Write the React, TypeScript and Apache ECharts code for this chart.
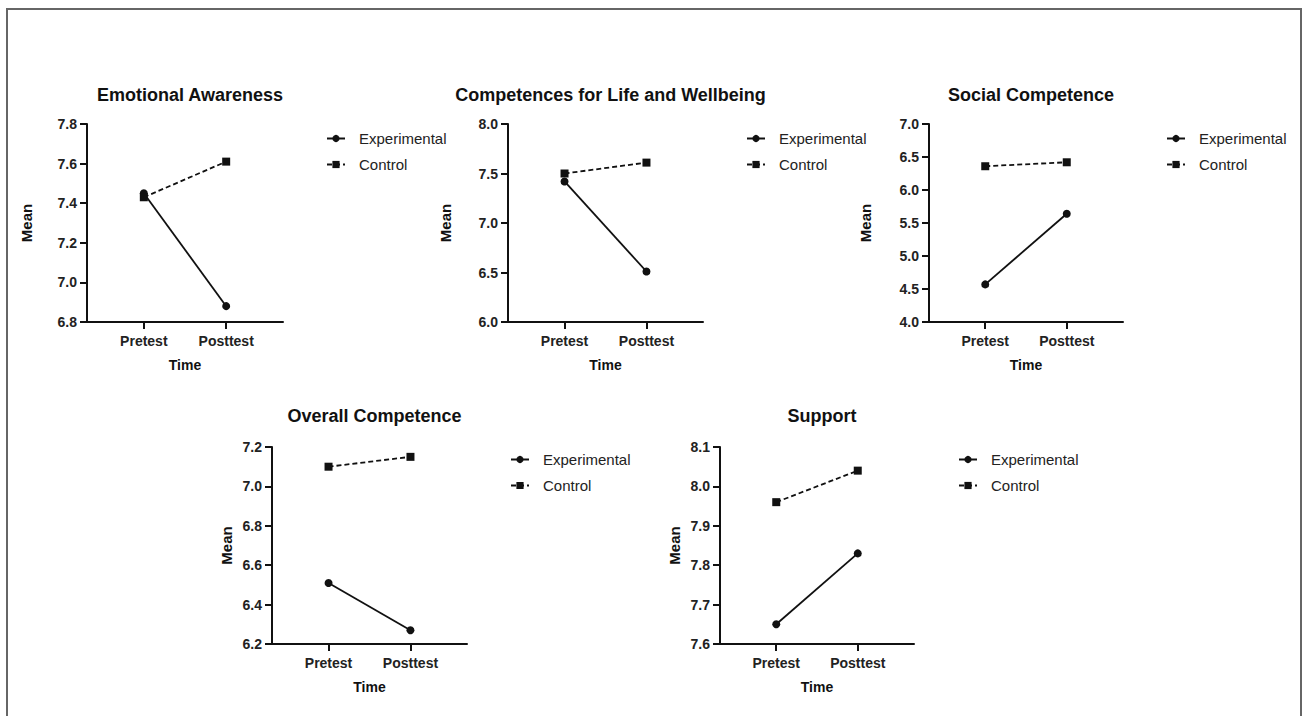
import React, { useEffect, useRef } from 'react';
import * as echarts from 'echarts';

// ---- Data ----
const timeLabels = ['Pretest', 'Posttest'];
const panelTitles = [
  'Emotional Awareness',
  'Competences for Life and Wellbeing',
  'Social Competence',
  'Overall Competence',
  'Support',
];
const seriesNames = ['Experimental', 'Control'];

const emotionalExp = [7.45, 6.88];
const emotionalCtl = [7.43, 7.61];
const lifeExp = [7.42, 6.51];
const lifeCtl = [7.5, 7.61];
const socialExp = [4.57, 5.64];
const socialCtl = [6.36, 6.42];
const overallExp = [6.51, 6.27];
const overallCtl = [7.1, 7.15];
const supportExp = [7.65, 7.83];
const supportCtl = [7.96, 8.04];

const experimentalSets = [emotionalExp, lifeExp, socialExp, overallExp, supportExp];
const controlSets = [emotionalCtl, lifeCtl, socialCtl, overallCtl, supportCtl];

const yMins = [6.8, 6.0, 4.0, 6.2, 7.6];
const yMaxs = [7.8, 8.0, 7.0, 7.2, 8.1];
const yIntervals = [0.2, 0.5, 0.5, 0.2, 0.1];

// ---- Layout (positions only) ----
const layouts = [
  { left: 87, top: 124, width: 196, height: 198, legendLeft: 326, legendTop: 131, titleTop: 81, nameGap: 53 },
  { left: 508, top: 124, width: 195, height: 198, legendLeft: 746, legendTop: 131, titleTop: 81, nameGap: 55 },
  { left: 929, top: 124, width: 194, height: 198, legendLeft: 1166, legendTop: 131, titleTop: 81, nameGap: 56 },
  { left: 272, top: 447, width: 195, height: 197, legendLeft: 510, legendTop: 452, titleTop: 402, nameGap: 38 },
  { left: 720, top: 447, width: 194, height: 197, legendLeft: 958, legendTop: 452, titleTop: 402, nameGap: 38 },
];

const FONT = '"Liberation Sans", Arial, Helvetica, sans-serif';
const INK = '#111';

export default function App() {
  const ref = useRef<HTMLDivElement>(null);

  useEffect(() => {
    if (!ref.current) return;
    const chart = echarts.init(ref.current, null, { renderer: 'svg' });

    const axisLine = { show: true, onZero: false, lineStyle: { color: INK, width: 2 } };

    const option: any = {
      animation: false,
      backgroundColor: '#fff',
      textStyle: { fontFamily: FONT },
      graphic: [
        {
          type: 'rect',
          silent: true,
          shape: { x: 7, y: 9, width: 1294, height: 800 },
          style: { fill: 'none', stroke: '#666', lineWidth: 2 },
        },
      ],
      title: layouts.map((l, i) => ({
        text: panelTitles[i],
        left: l.left + l.width / 2,
        top: l.titleTop,
        textAlign: 'center',
        textStyle: { fontFamily: FONT, fontSize: 18, fontWeight: 'bold', color: INK },
      })),
      legend: layouts.map((l) => ({
        left: l.legendLeft,
        top: l.legendTop,
        padding: 0,
        orient: 'vertical',
        itemWidth: 18,
        itemHeight: 9,
        itemGap: 11,
        data: seriesNames,
        textStyle: { fontFamily: FONT, fontSize: 15, color: '#222', lineHeight: 15, padding: [0, 0, 0, 9] },
      })),
      grid: layouts.map((l) => ({ left: l.left, top: l.top, width: l.width, height: l.height })),
      xAxis: layouts.map((_, i) => ({
        type: 'value',
        gridIndex: i,
        min: 0.31,
        max: 2.69,
        name: 'Time',
        nameLocation: 'middle',
        nameGap: 36,
        nameTextStyle: { fontFamily: FONT, fontSize: 14, fontWeight: 'bold', color: INK },
        axisLine,
        splitLine: { show: false },
        axisTick: { show: true, length: 7, customValues: [1, 2], lineStyle: { color: INK, width: 2 } },
        axisLabel: {
          customValues: [1, 2],
          margin: 12,
          fontFamily: FONT,
          fontSize: 14,
          fontWeight: 'bold',
          color: '#222',
          formatter: (v: number) => timeLabels[Math.round(v) - 1] ?? '',
        },
      })),
      yAxis: layouts.map((l, i) => ({
        type: 'value',
        gridIndex: i,
        min: yMins[i],
        max: yMaxs[i],
        interval: yIntervals[i],
        name: 'Mean',
        nameLocation: 'middle',
        nameGap: l.nameGap,
        nameTextStyle: { fontFamily: FONT, fontSize: 15, fontWeight: 'bold', color: INK },
        axisLine,
        splitLine: { show: false },
        axisTick: { show: true, length: 7, lineStyle: { color: INK, width: 2 } },
        axisLabel: {
          margin: 10,
          fontFamily: FONT,
          fontSize: 14,
          fontWeight: 'bold',
          color: '#222',
          formatter: (v: number) => v.toFixed(1),
        },
      })),
      series: [
        ...experimentalSets.map((vals, i) => ({
          type: 'line',
          name: seriesNames[0],
          xAxisIndex: i,
          yAxisIndex: i,
          data: vals.map((v, j) => [j + 1, v]),
          symbol: 'circle',
          symbolSize: 8,
          lineStyle: { color: INK, width: 1.8 },
          itemStyle: { color: INK },
          z: 3,
        })),
        ...controlSets.map((vals, i) => ({
          type: 'line',
          name: seriesNames[1],
          xAxisIndex: i,
          yAxisIndex: i,
          data: vals.map((v, j) => [j + 1, v]),
          symbol: 'rect',
          symbolSize: 8,
          lineStyle: { color: INK, width: 1.8, type: [5, 3] },
          itemStyle: { color: INK },
          z: 4,
        })),
      ],
    };

    chart.setOption(option);
    return () => chart.dispose();
  }, []);

  return (
    <div
      ref={ref}
      style={{ position: 'fixed', left: 0, top: 0, width: 1302, height: 716, background: '#fff' }}
    />
  );
}
